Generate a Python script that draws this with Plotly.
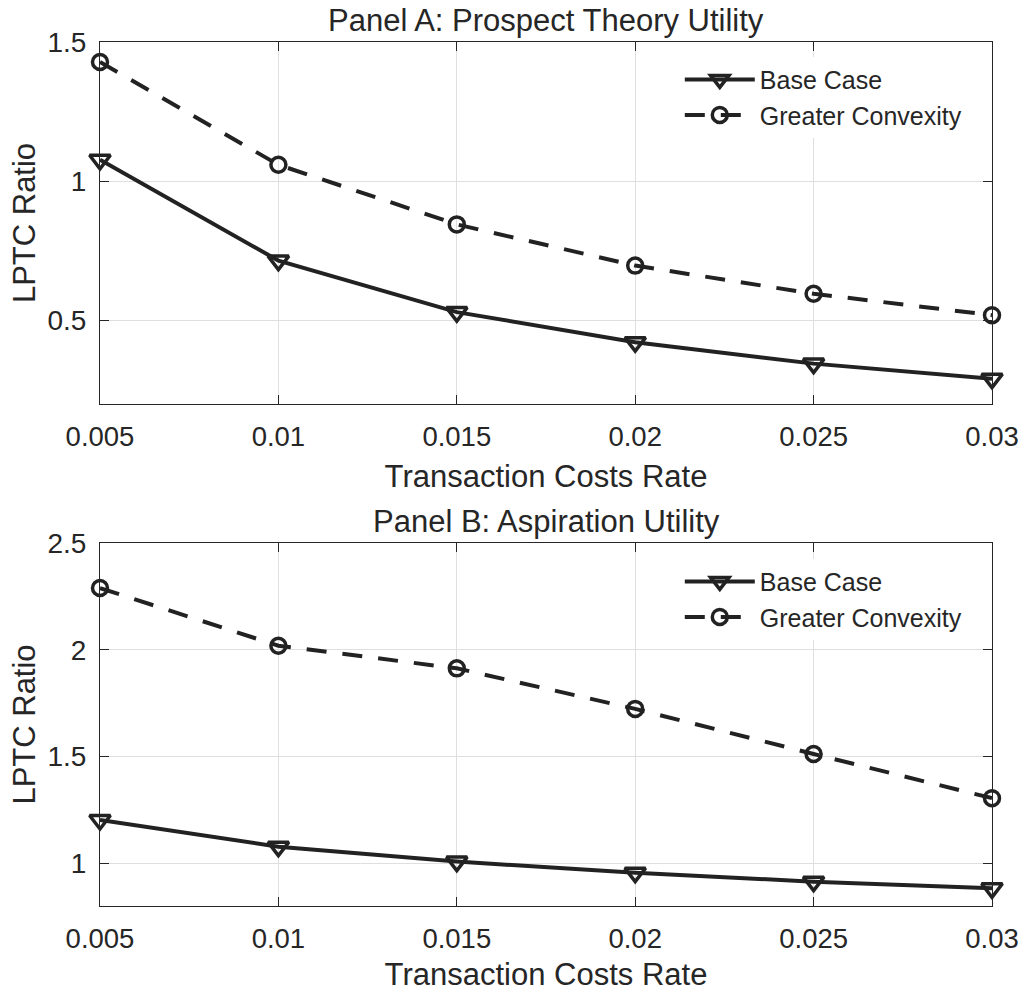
import plotly.graph_objects as go

# ---- data ----
tc_rate = [0.005, 0.01, 0.015, 0.02, 0.025, 0.03]
tick_labels = ["0.005", "0.01", "0.015", "0.02", "0.025", "0.03"]

panelA_base = [1.077, 0.715, 0.530, 0.422, 0.345, 0.291]
panelA_convex = [1.428, 1.059, 0.845, 0.697, 0.596, 0.519]

panelB_base = [1.203, 1.078, 1.008, 0.956, 0.914, 0.883]
panelB_convex = [2.289, 2.019, 1.913, 1.723, 1.512, 1.305]

panel_titles = ["Panel A: Prospect Theory Utility", "Panel B: Aspiration Utility"]
series_names = ["Base Case", "Greater Convexity"]

# ---- style ----
FONT = "Liberation Sans, Arial, Helvetica, sans-serif"
TXT = "#262626"
LINE = "#222222"
GRID = "#dfdfdf"

fig = go.Figure()

W, H = 1022, 992
ml, mr, mt, mb = 100, 30, 42, 86
ph = H - mt - mb
dom_a = [(906 - 404) / ph, 1.0]
dom_b = [0.0, (906 - 543) / ph]

def add_panel(base, convex, xa, ya, legend):
    fig.add_trace(go.Scatter(
        x=tc_rate, y=base, name=series_names[0], mode="lines+markers",
        xaxis=xa, yaxis=ya, legend=legend, cliponaxis=False,
        line=dict(color=LINE, width=4),
        marker=dict(symbol="triangle-down-open", size=18, color=LINE,
                    line=dict(color=LINE, width=3.5)),
    ))
    fig.add_trace(go.Scatter(
        x=tc_rate, y=convex, name=series_names[1], mode="lines+markers",
        xaxis=xa, yaxis=ya, legend=legend, cliponaxis=False,
        line=dict(color=LINE, width=4, dash="20px,16px"),
        marker=dict(symbol="circle-open", size=15, color=LINE,
                    line=dict(color=LINE, width=3.5)),
    ))

add_panel(panelA_base, panelA_convex, "x", "y", "legend")
add_panel(panelB_base, panelB_convex, "x2", "y2", "legend2")

xcommon = dict(
    range=[0.005, 0.03], tickvals=tc_rate, ticktext=tick_labels,
    showgrid=True, gridcolor=GRID, gridwidth=1, zeroline=False,
    showline=True, linecolor=TXT, linewidth=1, mirror="ticks",
    ticks="inside", ticklen=9, tickcolor=TXT, tickwidth=1,
    ticklabelstandoff=8, automargin=False,
    tickfont=dict(family=FONT, size=27.5, color=TXT),
    title=dict(text="Transaction Costs Rate", font=dict(family=FONT, size=31, color=TXT), standoff=14),
)
ycommon = dict(
    showgrid=True, gridcolor=GRID, gridwidth=1, zeroline=False,
    showline=True, linecolor=TXT, linewidth=1, mirror="ticks",
    ticks="inside", ticklen=9, tickcolor=TXT, tickwidth=1,
    ticklabelstandoff=7, automargin=False,
    tickfont=dict(family=FONT, size=28, color=TXT),
    title=dict(text="LPTC Ratio", font=dict(family=FONT, size=31, color=TXT), standoff=2),
)

fig.update_layout(
    width=W, height=H,
    margin=dict(l=ml, r=mr, t=mt, b=mb, autoexpand=False),
    paper_bgcolor="white", plot_bgcolor="white",
    font=dict(family=FONT, color=TXT),
    xaxis=dict(domain=[0, 1], anchor="y", **xcommon),
    yaxis=dict(domain=dom_a, anchor="x", range=[0.2, 1.5], tickvals=[0.5, 1, 1.5],
               ticktext=["0.5", "1", "1.5"], **ycommon),
    xaxis2=dict(domain=[0, 1], anchor="y2", **xcommon),
    yaxis2=dict(domain=dom_b, anchor="x2", range=[0.8, 2.5], tickvals=[1, 1.5, 2, 2.5],
                ticktext=["1", "1.5", "2", "2.5"], **ycommon),
    legend=dict(x=0.65, y=0.983, xanchor="left", yanchor="top",
                bgcolor="white", borderwidth=0, itemwidth=70,
                font=dict(family=FONT, size=25, color=TXT), tracegroupgap=0),
    legend2=dict(x=0.65, y=0.402, xanchor="left", yanchor="top",
                 bgcolor="white", borderwidth=0, itemwidth=70,
                 font=dict(family=FONT, size=25, color=TXT), tracegroupgap=0),
    annotations=[
        dict(text=panel_titles[0], x=0.5, y=dom_a[1], xref="paper", yref="paper",
             xanchor="center", yanchor="bottom", yshift=2, showarrow=False,
             font=dict(family=FONT, size=31, color=TXT)),
        dict(text=panel_titles[1], x=0.5, y=dom_b[1], xref="paper", yref="paper",
             xanchor="center", yanchor="bottom", yshift=2, showarrow=False,
             font=dict(family=FONT, size=31, color=TXT)),
    ],
)

fig.write_html("out.html", config={"displayModeBar": False},
               post_script="document.body.style.margin='0';")
